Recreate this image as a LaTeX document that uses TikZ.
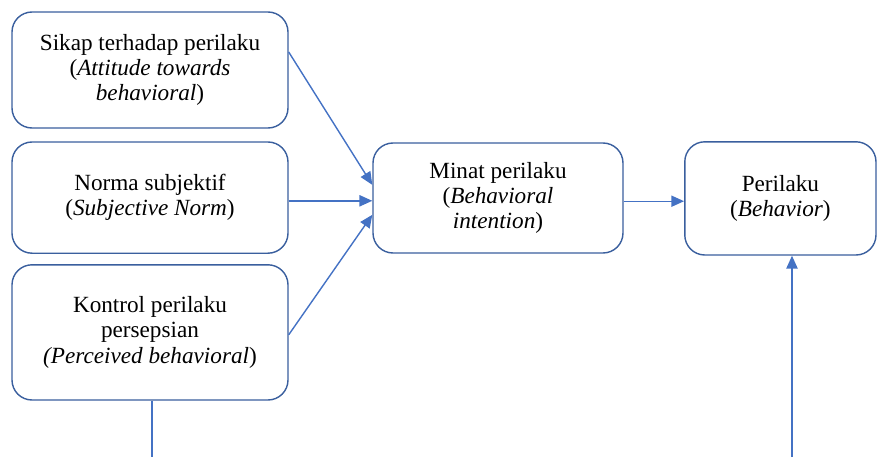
\documentclass[tikz,border=0pt]{standalone}
\usepackage{fontspec}
\setmainfont{Liberation Serif}
\newfontfamily\boxfont{Liberation Serif}
\usetikzlibrary{arrows.meta}
\usetikzlibrary{positioning}

\definecolor{boxline}{HTML}{3A5F9E}
\definecolor{arrowblue}{HTML}{4472C4}

\begin{document}
\begin{tikzpicture}[->,>={Triangle[length=0.32cm,width=0.28cm]},arrowblue,line width=1pt,
	main node/.style={draw=boxline,rectangle,rounded corners=0.5cm,fill=white,text=black,align=center,font=\boxfont\fontsize{16.5}{18}\selectfont,inner sep=0pt}]
		
		\useasboundingbox (0,0) rectangle (22.1,-11.425);
		
		\node[main node,minimum width=6.9cm,minimum height=2.9cm] at (3.75,-1.75) (sikap) {Sikap terhadap perilaku\\(\textit{Attitude towards}\\\textit{behavioral})};
		\node[main node,minimum width=6.9cm,minimum height=2.78cm] at (3.75,-4.94) (norma) {Norma subjektif\\(\textit{Subjective Norm})};
		\node[main node,minimum width=6.9cm,minimum height=3.38cm] at (3.75,-8.31) (kontrol) {Kontrol perilaku\\persepsian\\\textit{(Perceived behavioral})};
		\node[main node,minimum width=6.25cm,minimum height=2.75cm] at (12.45,-4.95) (minat) {Minat perilaku\\(\textit{Behavioral}\\\textit{intention})};
		\node[main node,minimum width=4.78cm,minimum height=2.83cm] at (19.51,-4.96) (perilaku) {Perilaku\\(\textit{Behavior})};
		
		\coordinate (k-bawah) at (3.8,-11.425);
		\coordinate (p-bawah) at (19.8,-11.425);
		
		\path
		([yshift=0.45cm]sikap.east) edge ([yshift=0.33cm]minat.west)
		([yshift=-0.08cm]norma.east) edge ([yshift=-0.08cm]norma.east -| minat.west)
		([yshift=-0.06cm]kontrol.east) edge ([yshift=-0.42cm]minat.west)
		([yshift=-0.08cm]minat.east) edge ([yshift=-0.08cm]minat.east -| perilaku.west)
		(p-bawah) edge (p-bawah |- perilaku.south)
		;
		\draw[-] (kontrol.south -| k-bawah) -- (k-bawah);
		
		\end{tikzpicture}
\end{document}
